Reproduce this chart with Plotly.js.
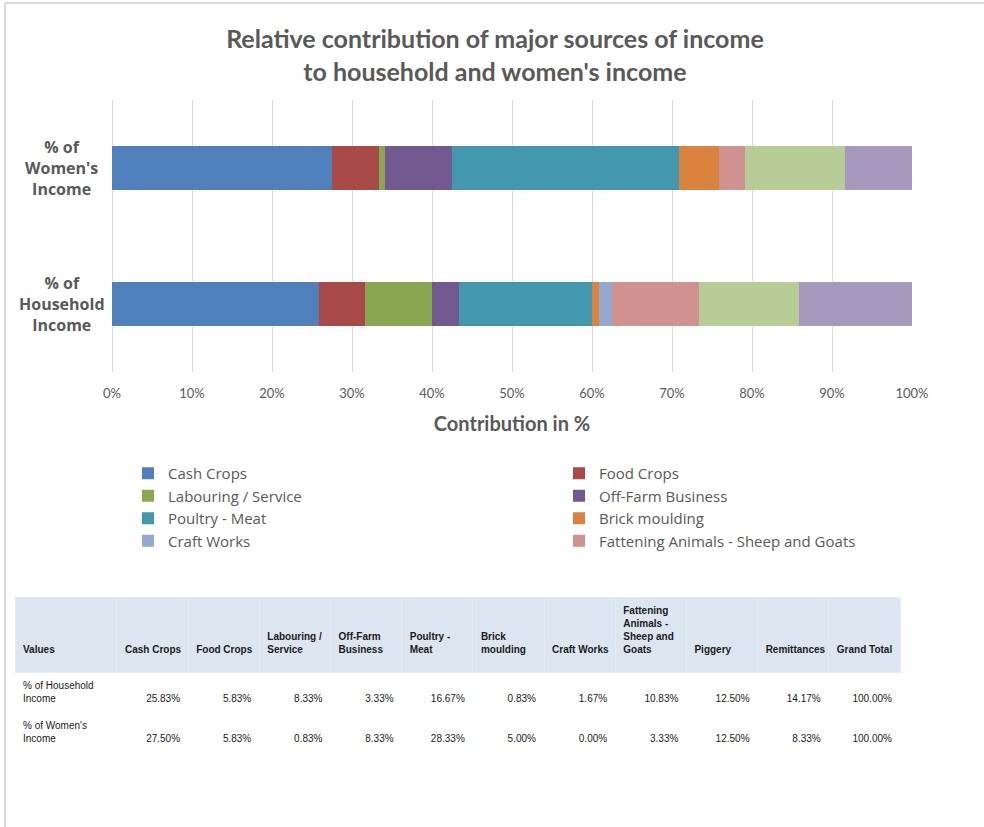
<!DOCTYPE html>
<html>
<head>
<meta charset="utf-8">
<script src="https://cdn.plot.ly/plotly-3.0.1.min.js"></script>
<style>
html,body{margin:0;padding:0;background:#fff;}
#chart{width:984px;height:827px;}
</style>
</head>
<body>
<div id="chart"></div>
<script>
// ---- data ----
var rows = ['% of Household Income', "% of Women's Income"];
var rowLabels = ['% of<br>Household<br>Income', "% of<br>Women's<br>Income"];
var sources = ['Cash Crops', 'Food Crops', 'Labouring / Service', 'Off-Farm Business', 'Poultry - Meat',
               'Brick moulding', 'Craft Works', 'Fattening Animals - Sheep and Goats', 'Piggery', 'Remittances'];
var householdPct = [25.83, 5.83, 8.33, 3.33, 16.67, 0.83, 1.67, 10.83, 12.50, 14.17];
var womenPct     = [27.50, 5.83, 0.83, 8.33, 28.33, 5.00, 0.00, 3.33, 12.50, 8.33];
var grandTotal   = [100.00, 100.00];
var inLegend     = [true, true, true, true, true, true, true, true, false, false];
var tableHeaders = ['Values', 'Cash Crops', 'Food Crops', 'Labouring /<br>Service', 'Off-Farm<br>Business',
                    'Poultry -<br>Meat', 'Brick<br>moulding', 'Craft Works', 'Fattening<br>Animals -<br>Sheep and<br>Goats',
                    'Piggery', 'Remittances', 'Grand Total'];
var tableRowLabels = ['% of Household<br>Income', "% of Women's<br>Income"];
var tickVals = [0, 10, 20, 30, 40, 50, 60, 70, 80, 90, 100];

// ---- styles ----
var colors = ['#4f80bc', '#a84a48', '#8aa650', '#725a91', '#4397ae', '#d9833f', '#93a9cf', '#d09291', '#b8cc98', '#a798bd'];
var txt = '#595959';
var FONT = 'Lato, sans-serif';
var LFONT = 'Open Sans, sans-serif';

function hasFont(name) {
  var c = document.createElement('canvas').getContext('2d');
  var s = 'abcdefghijklmnopqrstuvwxyz 0123456789%';
  c.font = '20px monospace';
  var a = c.measureText(s).width;
  c.font = '20px "' + name + '", monospace';
  var b = c.measureText(s).width;
  return Math.abs(a - b) > 0.5;
}
var narrow = hasFont('Liberation Sans Narrow');
var TFONT = narrow ? 'Liberation Sans Narrow' : 'Liberation Sans';
var TSIZE = narrow ? 12 : 10;

var traces = [];
for (var i = 0; i < sources.length; i++) {
  traces.push({
    type: 'bar', orientation: 'h',
    name: sources[i],
    y: rows,
    x: [householdPct[i], womenPct[i]],
    marker: {color: colors[i], line: {width: 0}},
    showlegend: inLegend[i],
    legend: (i % 2 === 0) ? 'legend' : 'legend2',
    hoverinfo: 'name+x',
    xaxis: 'x', yaxis: 'y'
  });
}

// table
function pct(v) { return v.toFixed(2) + '%'; }
function headerCell(h) {
  var parts = h.split('<br>');
  while (parts.length < 4) parts.unshift('\u00a0');
  return parts.map(function (p) { return '<b>' + p.replace(/ /g, '\u00a0') + '</b>'; }).join('<br>');
}
var colVals = [tableRowLabels];
for (var j = 0; j < sources.length; j++) {
  colVals.push(['\u00a0<br>' + pct(householdPct[j]), '\u00a0<br>' + pct(womenPct[j])]);
}
colVals.push(['\u00a0<br>' + pct(grandTotal[0]), '\u00a0<br>' + pct(grandTotal[1])]);
var widths = [102]; for (var c = 0; c < 11; c++) widths.push(71.2);
var aligns = ['left']; for (var c2 = 0; c2 < 11; c2++) aligns.push('right');

traces.push({
  type: 'table',
  domain: {x: [15/984, 900/984], y: [0.06, 1 - 597/827]},
  columnwidth: widths,
  header: {
    values: tableHeaders.map(headerCell),
    align: 'left',
    height: 75,
    fill: {color: '#dce6f1'},
    line: {color: '#e4ebf5', width: 1},
    font: {family: TFONT, size: TSIZE, color: '#1a1a1a'}
  },
  cells: {
    values: colVals,
    align: aligns,
    height: 36,
    fill: {color: '#ffffff'},
    line: {color: '#ffffff', width: 1},
    font: {family: TFONT, size: TSIZE, color: '#1a1a1a'}
  }
});

var annotations = rowLabels.map(function (t, k) {
  return {
    xref: 'paper', yref: 'y', x: 62/984, y: rows[k], text: '<b>' + t + '</b>',
    showarrow: false, align: 'center', xanchor: 'center', yanchor: 'middle',
    font: {family: LFONT, size: 16, color: txt}
  };
});

var legendCommon = {
  orientation: 'v',
  xanchor: 'left',
  y: 1 - 457/827, yanchor: 'top',
  traceorder: 'normal',
  font: {family: LFONT, size: 15, color: txt},
  itemwidth: 30,
  bgcolor: 'rgba(0,0,0,0)'
};
var legend1 = Object.assign({}, legendCommon, {x: 128/984});
var legend2 = Object.assign({}, legendCommon, {x: 559/984});

var layout = {
  width: 984, height: 827,
  margin: {l: 0, r: 0, t: 0, b: 0},
  paper_bgcolor: '#ffffff', plot_bgcolor: '#ffffff',
  barmode: 'stack',
  bargap: 0.68,
  title: {
    text: '<b>Relative contribution of major sources of income<br>to household and women\'s income</b>',
    x: 0.503, xanchor: 'center', y: 1 - 48/827, yanchor: 'middle', yref: 'container',
    font: {family: FONT, size: 25, color: txt}
  },
  xaxis: {
    domain: [112/984, 912/984],
    range: [0, 100],
    tickmode: 'array',
    tickvals: tickVals,
    ticktext: tickVals.map(function (v) { return v + '%'; }),
    showgrid: true, gridcolor: '#d9d9d9', gridwidth: 1,
    zeroline: true, zerolinecolor: '#d9d9d9', zerolinewidth: 1,
    showline: false, ticks: '',
    ticklabelstandoff: 12,
    tickfont: {family: FONT, size: 13, color: txt},
    title: {text: '<b>Contribution in %</b>', font: {family: FONT, size: 20, color: txt}, standoff: 16},
    anchor: 'y', fixedrange: true
  },
  yaxis: {
    domain: [1 - 372/827, 1 - 100/827],
    type: 'category',
    categoryorder: 'array', categoryarray: rows,
    range: [-0.5, 1.5],
    showticklabels: false, showgrid: false, zeroline: false, showline: false, ticks: '',
    anchor: 'x', fixedrange: true
  },
  showlegend: true,
  legend: legend1,
  legend2: legend2,
  annotations: annotations,
  shapes: [
    {type: 'line', xref: 'paper', yref: 'paper', x0: 5/984, x1: 1, y0: 1 - 3/827, y1: 1 - 3/827, line: {color: '#d9d9d9', width: 2}},
    {type: 'line', xref: 'paper', yref: 'paper', x0: 5/984, x1: 5/984, y0: 0, y1: 1 - 3/827, line: {color: '#d9d9d9', width: 2}}
  ]
};

Plotly.newPlot('chart', traces, layout, {displayModeBar: false, staticPlot: true});
</script>
</body>
</html>
